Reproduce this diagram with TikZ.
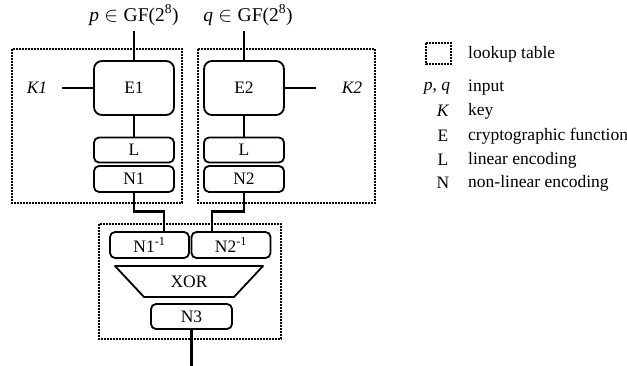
\documentclass[tikz,border=0pt]{standalone}
\usepackage{fontspec}
\setmainfont{Liberation Serif}
\begin{document}
\begin{tikzpicture}[x=1pt,y=-1pt,
  every node/.style={font=\fontsize{17.5}{19}\selectfont},
  hdr/.style={font=\fontsize{19.5}{21}\selectfont},
  fbox/.style={draw,line width=1.8pt,rounded corners=5pt,inner sep=0pt},
  bigbox/.style={fbox,rounded corners=8pt,minimum width=80pt,minimum height=54pt},
  smallbox/.style={fbox,minimum width=80pt,minimum height=25pt},
  wire/.style={line width=2.8pt},
  lut/.style={draw,dash pattern=on 1.6pt off 1.4pt,line width=1.8pt},
  lbl/.style={anchor=west,inner sep=0pt}]
\useasboundingbox (0,0) rectangle (627,366);
% lookup tables
\draw[lut] (12,49) rectangle (182,203);
\draw[lut] (198,49) rectangle (375,203);
\draw[lut] (99,224) rectangle (281,339);
% inputs
\node[hdr] (p) at (134,15) {\textit{p}\;$\in$\;GF(2\textsuperscript{8})};
\node[hdr] (q) at (248,15) {\textit{q}\;$\in$\;GF(2\textsuperscript{8})};
\coordinate (pin) at (134,31);
\coordinate (qin) at (244,31);
% main boxes
\node[bigbox] (E1) at (134,88) {E1};
\node[bigbox] (E2) at (244,88) {E2};
\node[smallbox] (L1) at (134,150) {L};
\node[smallbox,minimum height=26pt] (N1) at (134,179) {N1};
\node[smallbox] (L2) at (244,150) {L};
\node[smallbox,minimum height=26pt] (N2) at (244,179) {N2};
% keys
\node (K1) at (37,88) {\textit{K1}};
\node (K2) at (352,88) {\textit{K2}};
\coordinate (k1) at (62,88);
\coordinate (k2) at (316,88);
% inverse encodings
\node[smallbox,minimum width=79pt,minimum height=26pt] (N1i) at (149.5,245) {N1\textsuperscript{-1}};
\node[smallbox,minimum width=79pt,minimum height=26pt] (N2i) at (231,245) {N2\textsuperscript{-1}};
% XOR
\draw[line width=1.8pt,line join=round] (115,266) -- (263,266) -- (234,297) -- (144,297) -- cycle;
\node (xor) at (189,281.5) {XOR};
\node[smallbox,minimum width=81pt] (N3) at (191.5,316.5) {N3};
\coordinate (out) at (191.5,366);
% wires
\draw[wire] (pin) -- (E1.north);
\draw[wire] (qin) -- (E2.north);
\draw[wire] (k1) -- (E1.west);
\draw[wire] (E2.east) -- (k2);
\draw[wire] (E1.south) -- (L1.north);
\draw[wire] (E2.south) -- (L2.north);
\draw[wire] (N1.south) -- ++(0,19) -| ([xshift=14.5pt]N1i.north);
\draw[wire] (N2.south) -- ++(0,19) -| ([xshift=-19pt]N2i.north);
\draw[wire] (N3.south) -- (out);
% legend
\draw[lut] (426,43) rectangle (451,64);
\node[lbl] (l1) at (468,54) {lookup table};
\node (s2) at (437,88) {\textit{p}, \textit{q}};
\node[lbl] (l2) at (468,88) {input};
\node (s3) at (443,111) {\textit{K}};
\node[lbl] (l3) at (468,111) {key};
\node (s4) at (443,136) {E};
\node[lbl] (l4) at (468,136) {cryptographic function};
\node (s5) at (443,160) {L};
\node[lbl] (l5) at (468,160) {linear encoding};
\node (s6) at (443,183) {N};
\node[lbl] (l6) at (468,183) {non-linear encoding};
\end{tikzpicture}
\end{document}
